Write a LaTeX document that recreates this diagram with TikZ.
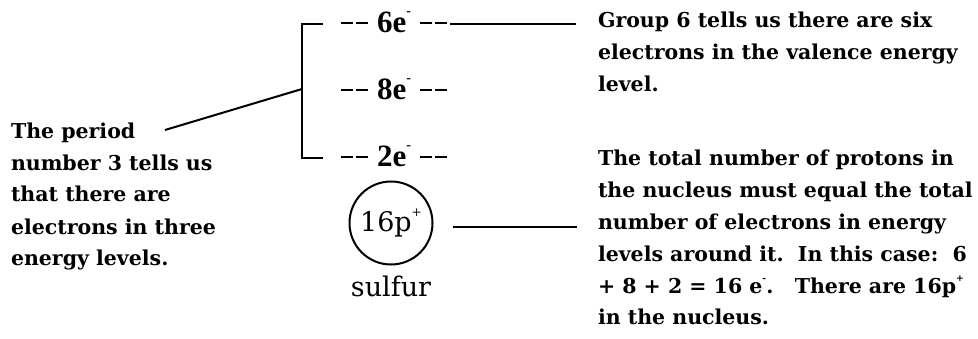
\documentclass[tikz,border=0pt]{standalone}
\usepackage{fontspec}
\setmainfont{DejaVu Serif}
\newfontfamily\lblfont{Liberation Serif}
\newcommand\dashpair{\rule[9pt]{12.5pt}{1.8pt}\kern2.5pt\rule[9pt]{12.5pt}{1.8pt}}
\newcommand\smallsup[1]{\raisebox{0.55em}{\fontsize{0.45em}{0.45em}\selectfont #1}}
\begin{document}
\begin{tikzpicture}[x=1pt,y=-1pt,line width=2pt,
  note/.style={font=\bfseries\fontsize{20.5}{32}\selectfont,align=left,anchor=base west,inner sep=0pt},
  lvl/.style={font=\lblfont\bfseries\fontsize{31}{34}\selectfont,anchor=base,inner sep=0pt},
  big/.style={font=\fontsize{27}{30}\selectfont}]
\useasboundingbox (0,0) rectangle (978,339);
% notes (anchor = baseline of last line)
\node[note] (left) at (10,266) {The period\\number 3 tells us\\that there are\\electrons in three\\energy levels.};
\node[note] (r1) at (597,92) {Group 6 tells us there are six\\electrons in the valence energy\\level.};
\node[note] (r2) at (597,325) {The total number of protons in\\the nucleus must equal the total\\number of electrons in energy\\levels around it.\ \ In this case:\ \ 6\\+ 8 + 2 = 16 e\smallsup{-}.\ \ \ There are 16p\smallsup{+}\\in the nucleus.};
% energy levels
\node[lvl] (l6) at (394,33) {\dashpair\hspace{9pt}6e\smallsup{-}\hspace{9pt}\dashpair};
\node[lvl] (l8) at (394,100) {\dashpair\hspace{9pt}8e\smallsup{-}\hspace{9pt}\dashpair};
\node[lvl] (l2) at (394,167) {\dashpair\hspace{9pt}2e\smallsup{-}\hspace{9pt}\dashpair};
% nucleus
\node[draw,circle,minimum size=83pt,inner sep=0pt,big] (nuc) at (391,223) {16p\smallsup{+}};
\node[big,anchor=base,inner sep=0pt] (name) at (391,297) {sulfur};
% bracket and connectors
\coordinate (bt) at (323,24);
\coordinate (bb) at (323,158);
\coordinate (bm) at (302,89);
\coordinate (lt) at (165,130);
\draw (bt) -| (bm) |- (bb);
\draw (bm) -- (lt);
\coordinate (ta) at (450,24);
\coordinate (tb) at (576,24);
\draw (ta) -- (tb);
\coordinate (na) at (453,227);
\coordinate (nb) at (577,227);
\draw (na) -- (nb);
\end{tikzpicture}
\end{document}
